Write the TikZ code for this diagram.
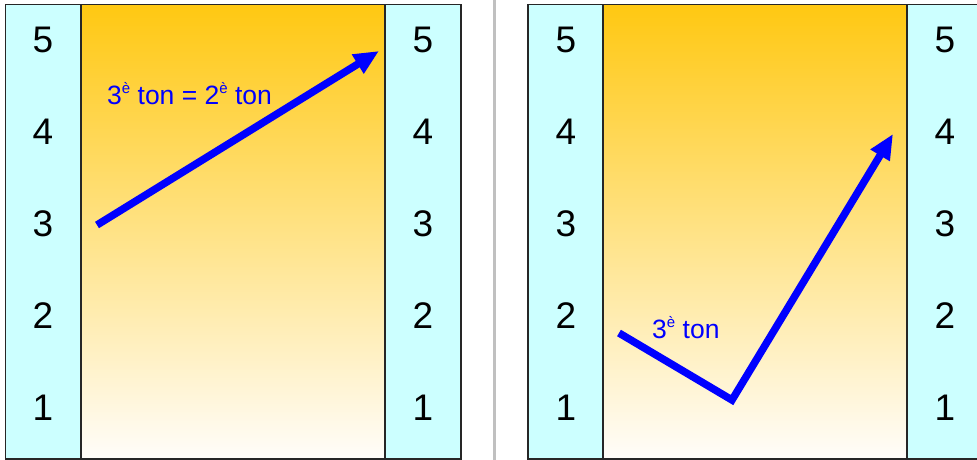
\documentclass[tikz,border=0pt]{standalone}
\usepackage{fontspec}
\setmainfont{Liberation Sans}
\usetikzlibrary{arrows.meta}
\definecolor{colfill}{RGB}{204,255,255}
\definecolor{gradtop}{RGB}{255,200,18}
\definecolor{gradmid}{RGB}{254,232,185}
\definecolor{gradbot}{RGB}{255,253,250}
\definecolor{arrblue}{RGB}{0,0,255}
\definecolor{sepgray}{RGB}{192,192,192}
\tikzset{
  colbox/.style={draw=black!85,line width=1.3pt,fill=colfill},
  gradbox/.style={draw=black!85,line width=1.3pt,top color=gradtop,middle color=gradmid,bottom color=gradbot},
  num/.style={font=\fontsize{37}{40}\selectfont,text=black,inner sep=0pt},
  lbl/.style={font=\fontsize{26.5}{28}\selectfont,text=arrblue,inner sep=0pt,anchor=base west},
  bigarrow/.style={draw=arrblue,line width=7.5pt,line join=miter,-{Triangle[length=25pt,width=21pt]}},
}
\newcommand{\supe}{\raisebox{11pt}{\fontsize{15}{15}\selectfont è}}
\begin{document}
\begin{tikzpicture}[x=1pt,y=-1pt]
\useasboundingbox (0,0) rectangle (977,460);
% separator
\draw[sepgray,line width=3pt] (494,0) -- (494,460);
% left panel
\path[gradbox] (81,4.5) rectangle (385,459);
\path[colbox] (5.5,4.5) rectangle (81,459);
\path[colbox] (385,4.5) rectangle (461,459);
% right panel
\path[gradbox] (603,4.5) rectangle (907,459);
\path[colbox] (528,4.5) rectangle (603,459);
\path[colbox] (907,4.5) rectangle (978,459);
% numbers
\foreach \n/\y in {5/40,4/132,3/224,2/316,1/408}{
  \node[num] (la\n) at (43,\y) {\n};
  \node[num] (ra\n) at (423,\y) {\n};
  \node[num] (lb\n) at (566,\y) {\n};
  \node[num] (rb\n) at (945,\y) {\n};
}
% arrow 1
\coordinate (a1s) at (97,225);
\coordinate (a1e) at (379,51);
\draw[bigarrow] (a1s) -- (a1e);
\node[lbl] (t1) at (107,104) {3\supe\ ton = 2\supe\ ton};
% arrow 2
\coordinate (a2s) at (619,333);
\coordinate (a2m) at (732,400);
\coordinate (a2e) at (893,134);
\draw[bigarrow] (a2s) -- (a2m) -- (a2e);
\node[lbl] (t2) at (652,338) {3\supe\ ton};
\end{tikzpicture}
\end{document}
